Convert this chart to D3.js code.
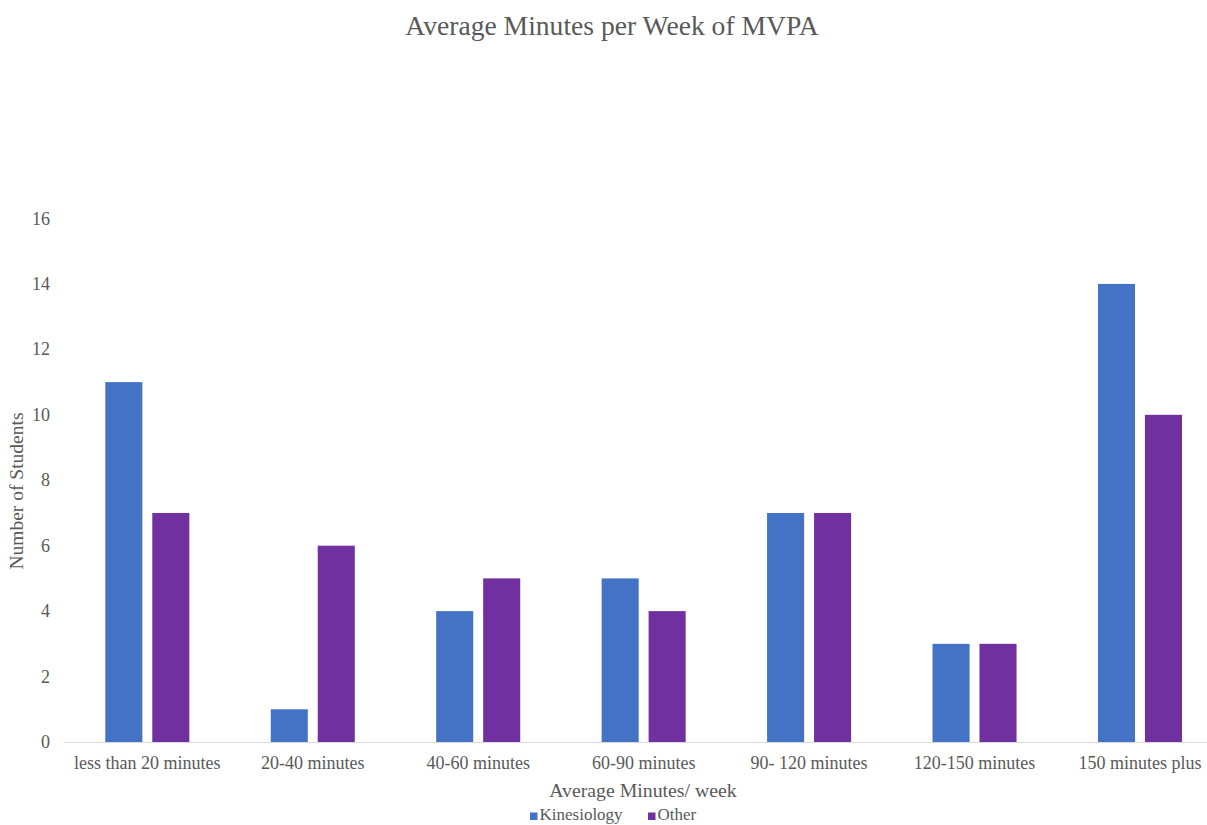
<!DOCTYPE html>
<html>
<head>
<meta charset="utf-8">
<script src="https://cdn.jsdelivr.net/npm/d3@7"></script>
<style>
body{margin:0;background:#fff;}
svg text{font-family:"Liberation Serif","Times New Roman",serif;}
</style>
</head>
<body>
<svg id="chart" width="1207" height="825"></svg>
<script>
const categories = ["less than 20 minutes","20-40 minutes","40-60 minutes","60-90 minutes","90- 120 minutes","120-150 minutes","150 minutes plus"];
const seriesNames = ["Kinesiology","Other"];
const kinesiology = [11,1,4,5,7,3,14];
const other = [7,6,5,4,7,3,10];
const yTicks = [0,2,4,6,8,10,12,14,16];
const colors = ["#4472C4","#7030A0"];

const svg = d3.select("#chart");
const W = 1207, H = 825;
const x0 = 64.6, x1 = 1222.7, yTop = 218.5, yBot = 742;

const x = d3.scaleBand().domain(categories).range([x0, x1]).paddingInner(0).paddingOuter(0);
const y = d3.scaleLinear().domain([0,16]).range([yBot, yTop]);
const bw = x.bandwidth();
const barW = bw * 0.224, gap = bw * 0.06;

const series = [kinesiology, other];
const g = svg.append("g");
series.forEach((vals, si) => {
  g.selectAll(null).data(vals).enter().append("rect")
    .attr("x", (d,i) => x(categories[i]) + bw/2 - barW - gap/2 + si*(barW+gap))
    .attr("y", d => y(d))
    .attr("width", barW)
    .attr("height", d => yBot - y(d))
    .attr("fill", colors[si]);
});

// x axis line
svg.append("line").attr("x1", x0).attr("x2", W).attr("y1", yBot+0.5).attr("y2", yBot+0.5)
  .attr("stroke", "#d9d9d9").attr("stroke-width", 1);

// x tick labels
svg.selectAll(null).data(categories).enter().append("text")
  .attr("x", d => x(d) + bw/2).attr("y", yBot + 27)
  .attr("text-anchor", "middle").attr("font-size", 18).attr("fill", "#595959")
  .text(d => d);

// y tick labels
svg.selectAll(null).data(yTicks).enter().append("text")
  .attr("x", 50).attr("y", d => y(d) + 6)
  .attr("text-anchor", "end").attr("font-size", 18).attr("fill", "#595959")
  .text(d => d);

// title
svg.append("text").attr("x", 612).attr("y", 35).attr("text-anchor", "middle")
  .attr("font-size", 27.6).attr("fill", "#595959").text("Average Minutes per Week of MVPA");

// axis titles
svg.append("text").attr("x", 643).attr("y", 797).attr("text-anchor", "middle")
  .attr("font-size", 19.8).attr("fill", "#595959").text("Average Minutes/ week");
svg.append("text").attr("transform", "translate(23,491) rotate(-90)").attr("text-anchor", "middle")
  .attr("font-size", 19.5).attr("fill", "#595959").text("Number of Students");

// legend
const legendX = [530, 648];
seriesNames.forEach((n, i) => {
  svg.append("rect").attr("x", legendX[i]).attr("y", 812.5).attr("width", 7.5).attr("height", 7.5).attr("fill", colors[i]);
  svg.append("text").attr("x", legendX[i] + 9.5).attr("y", 820).attr("font-size", 17).attr("fill", "#595959").text(n);
});
</script>
</body>
</html>
